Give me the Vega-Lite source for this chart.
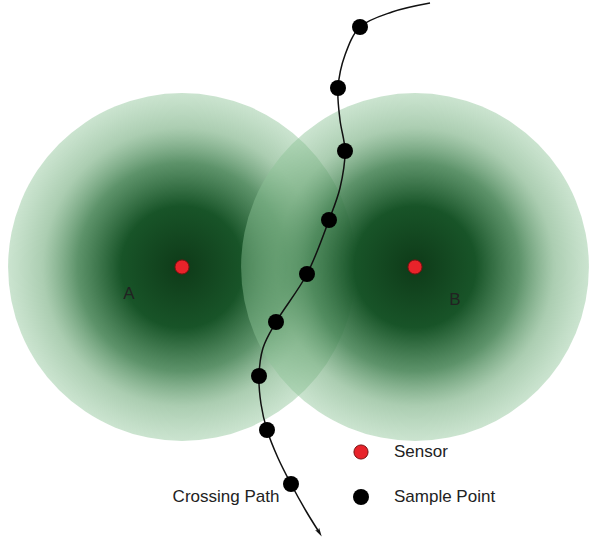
{
  "$schema": "https://vega.github.io/schema/vega-lite/v6.json",
  "width": 592,
  "height": 542,
  "autosize": {"type": "fit", "contains": "padding"},
  "padding": 0,
  "background": "white",
  "config": {"view": {"stroke": null}, "font": "Liberation Sans"},
  "datasets": {
    "zones": [
      {"name": "A", "x": 182, "y": 267},
      {"name": "B", "x": 415, "y": 267}
    ],
    "path": [
      {"i": 0, "x": 430, "y": 3},
      {"i": 1, "x": 392, "y": 12},
      {"i": 2, "x": 360, "y": 27},
      {"i": 3, "x": 345, "y": 55},
      {"i": 4, "x": 338, "y": 88},
      {"i": 5, "x": 340, "y": 120},
      {"i": 6, "x": 345, "y": 151},
      {"i": 7, "x": 340, "y": 188},
      {"i": 8, "x": 329, "y": 220},
      {"i": 9, "x": 307, "y": 274},
      {"i": 10, "x": 276, "y": 322},
      {"i": 11, "x": 263, "y": 348},
      {"i": 12, "x": 259, "y": 376},
      {"i": 13, "x": 261, "y": 404},
      {"i": 14, "x": 267, "y": 430},
      {"i": 15, "x": 278, "y": 458},
      {"i": 16, "x": 291, "y": 484},
      {"i": 17, "x": 306, "y": 511},
      {"i": 18, "x": 319, "y": 532}
    ],
    "samples": [
      {"x": 360, "y": 27},
      {"x": 338, "y": 88},
      {"x": 345, "y": 151},
      {"x": 329, "y": 220},
      {"x": 307, "y": 274},
      {"x": 276, "y": 322},
      {"x": 259, "y": 376},
      {"x": 267, "y": 430},
      {"x": 291, "y": 484},
      {"x": 361, "y": 497}
    ],
    "sensors": [
      {"x": 182, "y": 267},
      {"x": 415, "y": 267},
      {"x": 361, "y": 452}
    ],
    "arrow": [{"x": 319, "y": 532}],
    "centerLabels": [
      {"text": "A", "x": 129, "y": 294},
      {"text": "B", "x": 455, "y": 300},
      {"text": "Crossing Path", "x": 226, "y": 497}
    ],
    "legendLabels": [
      {"text": "Sensor", "x": 394, "y": 452},
      {"text": "Sample Point", "x": 394, "y": 497}
    ]
  },
  "encoding": {
    "x": {"field": "x", "type": "quantitative", "scale": {"domain": [0, 592], "nice": false, "zero": false}, "axis": null},
    "y": {"field": "y", "type": "quantitative", "scale": {"domain": [0, 542], "nice": false, "zero": false, "reverse": true}, "axis": null}
  },
  "layer": [
    {
      "data": {"name": "zones"},
      "mark": {
        "type": "point",
        "shape": "circle",
        "filled": true,
        "size": 121000,
        "strokeWidth": 0,
        "opacity": 1,
        "fill": {
          "gradient": "radial",
          "x1": 0.5, "y1": 0.5, "r1": 0,
          "x2": 0.5, "y2": 0.5, "r2": 0.5,
          "stops": [
            {"offset": 0, "color": "rgba(14,58,24,1)"},
            {"offset": 0.35, "color": "rgba(24,84,40,1)"},
            {"offset": 0.6, "color": "rgba(65,128,80,0.85)"},
            {"offset": 0.8, "color": "rgba(115,172,125,0.6)"},
            {"offset": 1, "color": "rgba(140,195,150,0.45)"}
          ]
        }
      }
    },
    {
      "data": {"name": "path"},
      "mark": {"type": "line", "interpolate": "catmull-rom", "color": "#111111", "strokeWidth": 1.5},
      "encoding": {"order": {"field": "i", "type": "quantitative"}}
    },
    {
      "data": {"name": "arrow"},
      "mark": {"type": "point", "shape": "M0,1 L-0.45,-0.7 L0,-0.35 L0.45,-0.7 Z", "filled": true, "color": "#111111", "size": 110, "angle": -31, "opacity": 1}
    },
    {
      "data": {"name": "samples"},
      "mark": {"type": "point", "shape": "circle", "filled": true, "color": "#000000", "size": 256, "opacity": 1}
    },
    {
      "data": {"name": "sensors"},
      "mark": {"type": "point", "shape": "circle", "filled": true, "fill": "#e8232a", "stroke": "#7a1010", "strokeWidth": 1, "size": 200, "opacity": 1}
    },
    {
      "data": {"name": "centerLabels"},
      "mark": {"type": "text", "baseline": "middle", "align": "center", "color": "#222222", "fontSize": 17},
      "encoding": {"text": {"field": "text"}}
    },
    {
      "data": {"name": "legendLabels"},
      "mark": {"type": "text", "baseline": "middle", "align": "left", "color": "#222222", "fontSize": 17},
      "encoding": {"text": {"field": "text"}}
    }
  ]
}
